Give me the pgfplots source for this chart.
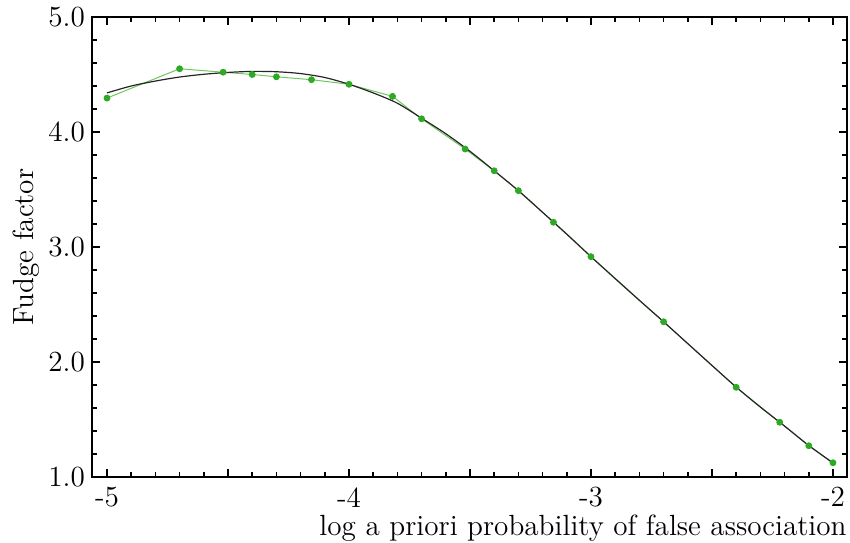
\documentclass[border=0pt]{standalone}
\usepackage{fontspec}
\usepackage{pgfplots}
\usepackage{pgfplotstable}
\pgfplotsset{compat=1.18}
\definecolor{ptgreen}{RGB}{45,170,35}
\definecolor{lngreen}{RGB}{110,200,90}
\pgfplotstableread{
x y
-5.00 4.295
-4.70 4.55
-4.52 4.52
-4.40 4.50
-4.30 4.48
-4.155 4.455
-4.00 4.415
-3.82 4.31
-3.70 4.115
-3.52 3.852
-3.40 3.663
-3.30 3.49
-3.155 3.215
-3.00 2.916
-2.70 2.35
-2.40 1.78
-2.22 1.476
-2.10 1.272
-2.00 1.124
}\datapts
\pgfplotstableread{
x y
-5.0 4.34
-4.9 4.40
-4.8 4.443
-4.7 4.478
-4.6 4.502
-4.5 4.518
-4.4 4.527
-4.3 4.524
-4.2 4.508
-4.1 4.474
-4.0 4.415
-3.9 4.34
-3.8 4.25
-3.7 4.12
-3.6 3.985
-3.5 3.832
-3.4 3.663
-3.3 3.49
-3.2 3.302
-3.1 3.112
-3.0 2.916
-2.9 2.725
-2.8 2.536
-2.7 2.35
-2.6 2.16
-2.5 1.97
-2.4 1.782
-2.3 1.608
-2.2 1.443
-2.1 1.274
-2.0 1.122
}\fitcurve
\begin{document}
\begin{tikzpicture}
\useasboundingbox (-46pt,-32.5pt) rectangle (379pt,238.5pt);
\begin{axis}[
 scale only axis, width=377.5pt, height=230pt,
 xmin=-5.062, xmax=-1.942, ymin=1, ymax=5,
 xtick={-5,-4.5,-4,-3.5,-3,-2.5,-2}, xticklabels={-5,,-4,,-3,,-2},
 minor x tick num=4,
 ytick={1,2,3,4,5}, yticklabels={1.0,2.0,3.0,4.0,5.0}, minor y tick num=4,
 major tick length=4pt, minor tick length=2.5pt,
 axis line style={line width=1pt},
 every tick/.append style={black, line width=0.8pt},
 tick label style={font=\fontsize{14.6}{17}\selectfont},
 label style={font=\fontsize{14.6}{17}\selectfont},
 xticklabel style={inner sep=0pt, yshift=-5pt},
 xlabel={log a priori probability of false association},
 xlabel style={at={(axis description cs:1,0)}, anchor=base east, inner sep=0pt, yshift=-29pt},
 ylabel={Fudge factor},
 ylabel style={at={(axis description cs:-0.069,0.5)}, anchor=south, inner sep=0pt},
]
\addplot[lngreen, line width=0.5pt, no marks] table[x=x,y=y] {\datapts};
\addplot[black!85, line width=0.6pt, smooth, no marks] table[x=x,y=y] {\fitcurve};
\addplot[only marks, mark=*, mark size=1.5pt, mark options={fill=ptgreen, draw=ptgreen}] table[x=x,y=y] {\datapts};
\end{axis}
\end{tikzpicture}
\end{document}
